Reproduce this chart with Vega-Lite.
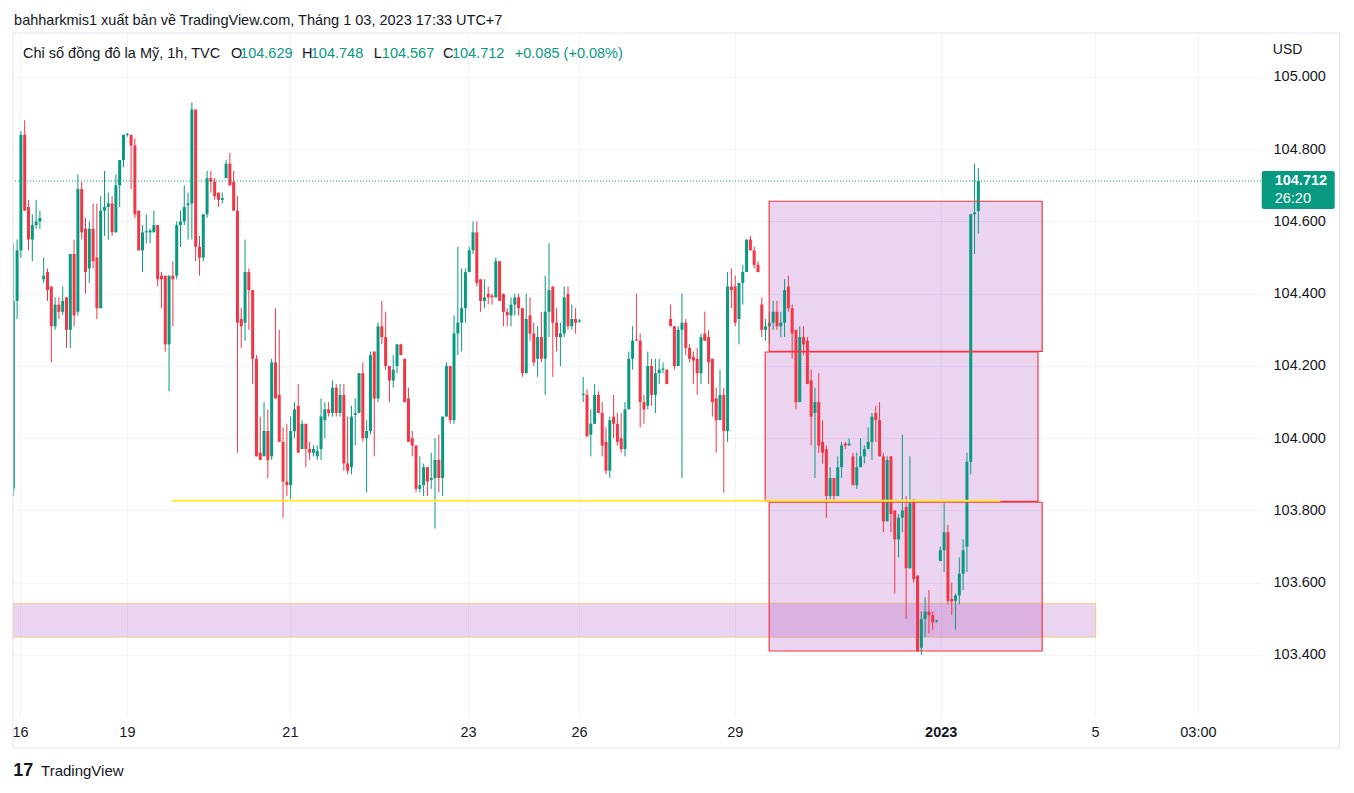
{
  "$schema": "https://vega.github.io/schema/vega-lite/v6.json",
  "width": 1248,
  "height": 683,
  "autosize": "none",
  "padding": {"left": 13, "top": 33, "right": 93, "bottom": 77},
  "background": "#ffffff",
  "config": {
    "view": {"stroke": null},
    "font": "Liberation Sans",
    "text": {"font": "Liberation Sans"}
  },
  "data": {"values": [{"note": "annotation"}]},
  "datasets": {
    "candles": [
      {"i":0,"o":103.86,"h":104.54,"l":103.84,"c":104.38},
      {"i":1,"o":104.38,"h":104.55,"l":104.33,"c":104.52},
      {"i":2,"o":104.52,"h":104.85,"l":104.50,"c":104.84},
      {"i":3,"o":104.84,"h":104.88,"l":104.63,"c":104.63},
      {"i":4,"o":104.64,"h":104.66,"l":104.52,"c":104.55},
      {"i":5,"o":104.55,"h":104.62,"l":104.49,"c":104.59},
      {"i":6,"o":104.59,"h":104.66,"l":104.58,"c":104.60},
      {"i":7,"o":104.60,"h":104.63,"l":104.58,"c":104.61},
      {"i":8,"o":104.44,"h":104.50,"l":104.43,"c":104.45},
      {"i":9,"o":104.46,"h":104.47,"l":104.38,"c":104.41},
      {"i":10,"o":104.42,"h":104.42,"l":104.21,"c":104.31},
      {"i":11,"o":104.31,"h":104.39,"l":104.30,"c":104.37},
      {"i":12,"o":104.37,"h":104.39,"l":104.33,"c":104.35},
      {"i":13,"o":104.35,"h":104.42,"l":104.34,"c":104.38},
      {"i":14,"o":104.39,"h":104.39,"l":104.25,"c":104.30},
      {"i":15,"o":104.30,"h":104.51,"l":104.25,"c":104.51},
      {"i":16,"o":104.51,"h":104.55,"l":104.31,"c":104.34},
      {"i":17,"o":104.35,"h":104.73,"l":104.34,"c":104.69},
      {"i":18,"o":104.69,"h":104.71,"l":104.55,"c":104.57},
      {"i":19,"o":104.58,"h":104.61,"l":104.40,"c":104.46},
      {"i":20,"o":104.47,"h":104.60,"l":104.43,"c":104.58},
      {"i":21,"o":104.58,"h":104.65,"l":104.47,"c":104.49},
      {"i":22,"o":104.50,"h":104.65,"l":104.33,"c":104.36},
      {"i":23,"o":104.36,"h":104.67,"l":104.36,"c":104.63},
      {"i":24,"o":104.63,"h":104.74,"l":104.56,"c":104.64},
      {"i":25,"o":104.64,"h":104.68,"l":104.55,"c":104.65},
      {"i":26,"o":104.65,"h":104.67,"l":104.56,"c":104.57},
      {"i":27,"o":104.57,"h":104.73,"l":104.57,"c":104.70},
      {"i":28,"o":104.70,"h":104.77,"l":104.64,"c":104.77},
      {"i":29,"o":104.77,"h":104.84,"l":104.75,"c":104.84},
      {"i":30,"o":104.84,"h":104.845,"l":104.835,"c":104.843},
      {"i":31,"o":104.84,"h":104.84,"l":104.69,"c":104.81},
      {"i":32,"o":104.81,"h":104.83,"l":104.61,"c":104.62},
      {"i":33,"o":104.63,"h":104.63,"l":104.52,"c":104.52},
      {"i":34,"o":104.52,"h":104.59,"l":104.46,"c":104.57},
      {"i":35,"o":104.57,"h":104.62,"l":104.54,"c":104.573},
      {"i":36,"o":104.57,"h":104.58,"l":104.54,"c":104.575},
      {"i":37,"o":104.57,"h":104.63,"l":104.57,"c":104.59},
      {"i":38,"o":104.59,"h":104.59,"l":104.42,"c":104.44},
      {"i":39,"o":104.45,"h":104.46,"l":104.36,"c":104.44},
      {"i":40,"o":104.45,"h":104.45,"l":104.24,"c":104.26},
      {"i":41,"o":104.26,"h":104.45,"l":104.13,"c":104.45},
      {"i":42,"o":104.45,"h":104.49,"l":104.31,"c":104.44},
      {"i":43,"o":104.45,"h":104.60,"l":104.44,"c":104.59},
      {"i":44,"o":104.59,"h":104.63,"l":104.53,"c":104.60},
      {"i":45,"o":104.60,"h":104.70,"l":104.59,"c":104.64},
      {"i":46,"o":104.645,"h":104.68,"l":104.55,"c":104.65},
      {"i":47,"o":104.65,"h":104.93,"l":104.55,"c":104.91},
      {"i":48,"o":104.91,"h":104.91,"l":104.49,"c":104.53},
      {"i":49,"o":104.53,"h":104.56,"l":104.45,"c":104.50},
      {"i":50,"o":104.50,"h":104.62,"l":104.49,"c":104.62},
      {"i":51,"o":104.62,"h":104.74,"l":104.61,"c":104.72},
      {"i":52,"o":104.72,"h":104.74,"l":104.68,"c":104.71},
      {"i":53,"o":104.71,"h":104.72,"l":104.66,"c":104.67},
      {"i":54,"o":104.68,"h":104.68,"l":104.64,"c":104.66},
      {"i":55,"o":104.66,"h":104.68,"l":104.65,"c":104.665},
      {"i":56,"o":104.72,"h":104.77,"l":104.72,"c":104.76},
      {"i":57,"o":104.76,"h":104.79,"l":104.70,"c":104.70},
      {"i":58,"o":104.71,"h":104.74,"l":104.63,"c":104.63},
      {"i":59,"o":104.63,"h":104.67,"l":103.96,"c":104.32},
      {"i":60,"o":104.33,"h":104.36,"l":104.25,"c":104.31},
      {"i":61,"o":104.32,"h":104.55,"l":104.27,"c":104.46},
      {"i":62,"o":104.46,"h":104.47,"l":104.30,"c":104.41},
      {"i":63,"o":104.41,"h":104.41,"l":104.15,"c":104.22},
      {"i":64,"o":104.22,"h":104.23,"l":103.95,"c":103.95},
      {"i":65,"o":103.96,"h":104.06,"l":103.94,"c":103.94},
      {"i":66,"o":103.95,"h":104.10,"l":103.95,"c":104.02},
      {"i":67,"o":104.02,"h":104.08,"l":103.89,"c":103.94},
      {"i":68,"o":103.95,"h":104.22,"l":103.94,"c":104.21},
      {"i":69,"o":104.21,"h":104.36,"l":104.11,"c":104.11},
      {"i":70,"o":104.12,"h":104.30,"l":103.99,"c":103.99},
      {"i":71,"o":103.99,"h":104.03,"l":103.78,"c":103.88},
      {"i":72,"o":103.88,"h":104.04,"l":103.84,"c":103.87},
      {"i":73,"o":103.87,"h":104.06,"l":103.83,"c":104.02},
      {"i":74,"o":104.02,"h":104.10,"l":104.00,"c":104.08},
      {"i":75,"o":104.09,"h":104.15,"l":103.96,"c":103.96},
      {"i":76,"o":103.97,"h":104.05,"l":103.97,"c":104.04},
      {"i":77,"o":104.04,"h":104.04,"l":103.92,"c":103.97},
      {"i":78,"o":103.97,"h":103.99,"l":103.94,"c":103.96},
      {"i":79,"o":103.96,"h":103.98,"l":103.95,"c":103.97},
      {"i":80,"o":103.95,"h":103.98,"l":103.94,"c":103.965},
      {"i":81,"o":103.97,"h":104.11,"l":103.94,"c":104.06},
      {"i":82,"o":104.05,"h":104.10,"l":104.00,"c":104.08},
      {"i":83,"o":104.08,"h":104.10,"l":104.06,"c":104.07},
      {"i":84,"o":104.07,"h":104.16,"l":104.06,"c":104.14},
      {"i":85,"o":104.14,"h":104.15,"l":104.06,"c":104.07},
      {"i":86,"o":104.07,"h":104.15,"l":104.06,"c":104.12},
      {"i":87,"o":104.12,"h":104.15,"l":103.91,"c":103.93},
      {"i":88,"o":103.93,"h":104.06,"l":103.90,"c":103.91},
      {"i":89,"o":103.92,"h":104.09,"l":103.90,"c":104.06},
      {"i":90,"o":104.065,"h":104.11,"l":103.98,"c":104.07},
      {"i":91,"o":104.07,"h":104.18,"l":104.07,"c":104.18},
      {"i":92,"o":104.18,"h":104.21,"l":103.99,"c":104.00},
      {"i":93,"o":104.00,"h":104.05,"l":103.85,"c":104.02},
      {"i":94,"o":104.02,"h":104.24,"l":104.01,"c":104.23},
      {"i":95,"o":104.24,"h":104.24,"l":103.95,"c":104.11},
      {"i":96,"o":104.11,"h":104.32,"l":104.10,"c":104.31},
      {"i":97,"o":104.31,"h":104.38,"l":104.26,"c":104.28},
      {"i":98,"o":104.28,"h":104.35,"l":104.19,"c":104.20},
      {"i":99,"o":104.20,"h":104.20,"l":104.10,"c":104.16},
      {"i":100,"o":104.16,"h":104.23,"l":104.14,"c":104.19},
      {"i":101,"o":104.20,"h":104.26,"l":104.18,"c":104.26},
      {"i":102,"o":104.26,"h":104.26,"l":104.23,"c":104.23},
      {"i":103,"o":104.22,"h":104.22,"l":104.10,"c":104.10},
      {"i":104,"o":104.11,"h":104.14,"l":103.99,"c":103.99},
      {"i":105,"o":104.00,"h":104.02,"l":103.95,"c":103.98},
      {"i":106,"o":103.98,"h":103.98,"l":103.85,"c":103.86},
      {"i":107,"o":103.86,"h":103.95,"l":103.85,"c":103.87},
      {"i":108,"o":103.87,"h":103.93,"l":103.84,"c":103.92},
      {"i":109,"o":103.92,"h":103.92,"l":103.84,"c":103.88},
      {"i":110,"o":103.885,"h":103.96,"l":103.86,"c":103.89},
      {"i":111,"o":103.89,"h":104.00,"l":103.75,"c":103.94},
      {"i":112,"o":103.94,"h":104.01,"l":103.85,"c":103.89},
      {"i":113,"o":103.89,"h":104.06,"l":103.84,"c":104.06},
      {"i":114,"o":104.06,"h":104.21,"l":104.06,"c":104.20},
      {"i":115,"o":104.20,"h":104.20,"l":104.04,"c":104.05},
      {"i":116,"o":104.05,"h":104.34,"l":104.04,"c":104.29},
      {"i":117,"o":104.29,"h":104.53,"l":104.23,"c":104.32},
      {"i":118,"o":104.32,"h":104.47,"l":104.24,"c":104.36},
      {"i":119,"o":104.36,"h":104.47,"l":104.32,"c":104.46},
      {"i":120,"o":104.46,"h":104.53,"l":104.46,"c":104.52},
      {"i":121,"o":104.52,"h":104.60,"l":104.51,"c":104.57},
      {"i":122,"o":104.57,"h":104.60,"l":104.42,"c":104.43},
      {"i":123,"o":104.44,"h":104.44,"l":104.35,"c":104.38},
      {"i":124,"o":104.38,"h":104.44,"l":104.36,"c":104.39},
      {"i":125,"o":104.40,"h":104.42,"l":104.37,"c":104.39},
      {"i":126,"o":104.395,"h":104.40,"l":104.37,"c":104.39},
      {"i":127,"o":104.39,"h":104.50,"l":104.39,"c":104.49},
      {"i":128,"o":104.49,"h":104.49,"l":104.38,"c":104.38},
      {"i":129,"o":104.40,"h":104.40,"l":104.31,"c":104.35},
      {"i":130,"o":104.35,"h":104.36,"l":104.31,"c":104.34},
      {"i":131,"o":104.34,"h":104.39,"l":104.31,"c":104.37},
      {"i":132,"o":104.37,"h":104.40,"l":104.34,"c":104.39},
      {"i":133,"o":104.39,"h":104.40,"l":104.34,"c":104.36},
      {"i":134,"o":104.36,"h":104.36,"l":104.17,"c":104.18},
      {"i":135,"o":104.18,"h":104.40,"l":104.18,"c":104.33},
      {"i":136,"o":104.34,"h":104.39,"l":104.27,"c":104.29},
      {"i":137,"o":104.29,"h":104.32,"l":104.20,"c":104.21},
      {"i":138,"o":104.22,"h":104.31,"l":104.17,"c":104.28},
      {"i":139,"o":104.28,"h":104.35,"l":104.21,"c":104.22},
      {"i":140,"o":104.22,"h":104.45,"l":104.12,"c":104.35},
      {"i":141,"o":104.35,"h":104.54,"l":104.28,"c":104.41},
      {"i":142,"o":104.42,"h":104.42,"l":104.17,"c":104.32},
      {"i":143,"o":104.32,"h":104.36,"l":104.24,"c":104.28},
      {"i":144,"o":104.28,"h":104.32,"l":104.20,"c":104.29},
      {"i":145,"o":104.29,"h":104.42,"l":104.28,"c":104.39},
      {"i":146,"o":104.40,"h":104.42,"l":104.30,"c":104.31},
      {"i":147,"o":104.31,"h":104.37,"l":104.30,"c":104.33},
      {"i":148,"o":104.33,"h":104.36,"l":104.29,"c":104.32},
      {"i":149,"o":104.323,"h":104.33,"l":104.32,"c":104.326},
      {"i":150,"o":104.12,"h":104.17,"l":104.10,"c":104.123},
      {"i":151,"o":104.12,"h":104.135,"l":104.005,"c":104.005},
      {"i":152,"o":104.01,"h":104.08,"l":103.95,"c":104.04},
      {"i":153,"o":104.04,"h":104.15,"l":104.04,"c":104.12},
      {"i":154,"o":104.12,"h":104.13,"l":104.07,"c":104.07},
      {"i":155,"o":104.07,"h":104.10,"l":103.95,"c":103.98},
      {"i":156,"o":103.99,"h":104.03,"l":103.90,"c":103.91},
      {"i":157,"o":103.91,"h":104.06,"l":103.89,"c":104.05},
      {"i":158,"o":104.06,"h":104.12,"l":104.00,"c":104.04},
      {"i":159,"o":104.04,"h":104.07,"l":103.98,"c":103.99},
      {"i":160,"o":104.00,"h":104.07,"l":103.96,"c":103.97},
      {"i":161,"o":103.97,"h":104.10,"l":103.95,"c":104.08},
      {"i":162,"o":104.08,"h":104.24,"l":104.08,"c":104.22},
      {"i":163,"o":104.22,"h":104.31,"l":104.19,"c":104.27},
      {"i":164,"o":104.273,"h":104.40,"l":104.27,"c":104.27},
      {"i":165,"o":104.27,"h":104.29,"l":104.03,"c":104.10},
      {"i":166,"o":104.10,"h":104.12,"l":104.04,"c":104.08},
      {"i":167,"o":104.09,"h":104.24,"l":104.08,"c":104.20},
      {"i":168,"o":104.20,"h":104.22,"l":104.09,"c":104.12},
      {"i":169,"o":104.12,"h":104.22,"l":104.07,"c":104.18},
      {"i":170,"o":104.18,"h":104.22,"l":104.15,"c":104.19},
      {"i":171,"o":104.19,"h":104.21,"l":104.18,"c":104.193},
      {"i":172,"o":104.19,"h":104.19,"l":104.15,"c":104.15},
      {"i":173,"o":104.33,"h":104.37,"l":104.31,"c":104.31},
      {"i":174,"o":104.31,"h":104.31,"l":104.19,"c":104.20},
      {"i":175,"o":104.20,"h":104.31,"l":104.20,"c":104.30},
      {"i":176,"o":104.30,"h":104.40,"l":103.89,"c":104.32},
      {"i":177,"o":104.32,"h":104.33,"l":104.23,"c":104.25},
      {"i":178,"o":104.25,"h":104.26,"l":104.21,"c":104.22},
      {"i":179,"o":104.225,"h":104.24,"l":104.15,"c":104.215},
      {"i":180,"o":104.22,"h":104.25,"l":104.12,"c":104.18},
      {"i":181,"o":104.18,"h":104.29,"l":104.15,"c":104.28},
      {"i":182,"o":104.29,"h":104.35,"l":104.27,"c":104.27},
      {"i":183,"o":104.28,"h":104.30,"l":104.15,"c":104.21},
      {"i":184,"o":104.22,"h":104.22,"l":104.06,"c":104.10},
      {"i":185,"o":104.11,"h":104.14,"l":103.96,"c":104.05},
      {"i":186,"o":104.05,"h":104.19,"l":104.05,"c":104.12},
      {"i":187,"o":104.12,"h":104.14,"l":103.85,"c":104.02},
      {"i":188,"o":104.02,"h":104.46,"l":103.99,"c":104.42},
      {"i":189,"o":104.42,"h":104.47,"l":104.36,"c":104.41},
      {"i":190,"o":104.42,"h":104.45,"l":104.31,"c":104.32},
      {"i":191,"o":104.33,"h":104.43,"l":104.26,"c":104.43},
      {"i":192,"o":104.43,"h":104.48,"l":104.37,"c":104.46},
      {"i":193,"o":104.46,"h":104.55,"l":104.46,"c":104.55},
      {"i":194,"o":104.55,"h":104.56,"l":104.52,"c":104.52},
      {"i":195,"o":104.52,"h":104.53,"l":104.47,"c":104.48},
      {"i":196,"o":104.48,"h":104.49,"l":104.46,"c":104.46},
      {"i":197,"o":104.37,"h":104.39,"l":104.28,"c":104.30},
      {"i":198,"o":104.30,"h":104.33,"l":104.27,"c":104.31},
      {"i":199,"o":104.31,"h":104.35,"l":104.26,"c":104.32},
      {"i":200,"o":104.32,"h":104.38,"l":104.30,"c":104.35},
      {"i":201,"o":104.35,"h":104.38,"l":104.30,"c":104.31},
      {"i":202,"o":104.31,"h":104.35,"l":104.28,"c":104.32},
      {"i":203,"o":104.32,"h":104.44,"l":104.28,"c":104.41},
      {"i":204,"o":104.42,"h":104.45,"l":104.35,"c":104.36},
      {"i":205,"o":104.36,"h":104.37,"l":104.22,"c":104.29},
      {"i":206,"o":104.30,"h":104.30,"l":104.08,"c":104.10},
      {"i":207,"o":104.10,"h":104.31,"l":104.10,"c":104.28},
      {"i":208,"o":104.28,"h":104.31,"l":104.23,"c":104.26},
      {"i":209,"o":104.27,"h":104.28,"l":104.15,"c":104.15},
      {"i":210,"o":104.16,"h":104.19,"l":103.98,"c":104.06},
      {"i":211,"o":104.07,"h":104.14,"l":103.89,"c":104.10},
      {"i":212,"o":104.10,"h":104.18,"l":103.96,"c":103.98},
      {"i":213,"o":103.99,"h":104.05,"l":103.93,"c":103.96},
      {"i":214,"o":103.97,"h":103.98,"l":103.78,"c":103.84},
      {"i":215,"o":103.84,"h":103.92,"l":103.83,"c":103.89},
      {"i":216,"o":103.89,"h":103.89,"l":103.83,"c":103.84},
      {"i":217,"o":103.84,"h":103.95,"l":103.84,"c":103.92},
      {"i":218,"o":103.92,"h":103.99,"l":103.89,"c":103.98},
      {"i":219,"o":103.985,"h":103.99,"l":103.97,"c":103.98},
      {"i":220,"o":103.98,"h":104.00,"l":103.98,"c":103.985},
      {"i":221,"o":103.95,"h":103.96,"l":103.87,"c":103.87},
      {"i":222,"o":103.87,"h":103.96,"l":103.86,"c":103.92},
      {"i":223,"o":103.92,"h":104.00,"l":103.92,"c":103.95},
      {"i":224,"o":103.95,"h":103.98,"l":103.93,"c":103.97},
      {"i":225,"o":103.97,"h":104.03,"l":103.97,"c":103.99},
      {"i":226,"o":103.99,"h":104.07,"l":103.94,"c":104.06},
      {"i":227,"o":104.07,"h":104.09,"l":103.99,"c":104.05},
      {"i":228,"o":104.05,"h":104.10,"l":103.95,"c":103.95},
      {"i":229,"o":103.95,"h":103.96,"l":103.74,"c":103.77},
      {"i":230,"o":103.77,"h":103.95,"l":103.77,"c":103.94},
      {"i":231,"o":103.95,"h":103.95,"l":103.74,"c":103.79},
      {"i":232,"o":103.80,"h":103.80,"l":103.57,"c":103.72},
      {"i":233,"o":103.72,"h":103.79,"l":103.67,"c":103.78},
      {"i":234,"o":103.78,"h":104.01,"l":103.74,"c":103.80},
      {"i":235,"o":103.81,"h":103.84,"l":103.50,"c":103.64},
      {"i":236,"o":103.64,"h":103.95,"l":103.64,"c":103.82},
      {"i":237,"o":103.83,"h":103.83,"l":103.60,"c":103.61},
      {"i":238,"o":103.62,"h":103.62,"l":103.41,"c":103.41},
      {"i":239,"o":103.42,"h":103.52,"l":103.40,"c":103.50},
      {"i":240,"o":103.50,"h":103.56,"l":103.45,"c":103.52},
      {"i":241,"o":103.52,"h":103.58,"l":103.46,"c":103.51},
      {"i":242,"o":103.51,"h":103.52,"l":103.47,"c":103.49},
      {"i":243,"o":103.493,"h":103.497,"l":103.49,"c":103.496},
      {"i":244,"o":103.66,"h":103.70,"l":103.66,"c":103.69},
      {"i":245,"o":103.69,"h":103.82,"l":103.63,"c":103.74},
      {"i":246,"o":103.74,"h":103.76,"l":103.54,"c":103.55},
      {"i":247,"o":103.555,"h":103.60,"l":103.51,"c":103.548},
      {"i":248,"o":103.55,"h":103.57,"l":103.47,"c":103.565},
      {"i":249,"o":103.565,"h":103.67,"l":103.54,"c":103.625},
      {"i":250,"o":103.625,"h":103.72,"l":103.58,"c":103.69},
      {"i":251,"o":103.70,"h":103.96,"l":103.63,"c":103.935},
      {"i":252,"o":103.935,"h":104.62,"l":103.90,"c":104.62},
      {"i":253,"o":104.62,"h":104.76,"l":104.51,"c":104.625},
      {"i":254,"o":104.629,"h":104.748,"l":104.567,"c":104.712}
    ],
    "boxes": [
      {"a":198.95,"b":270.8,"t":104.656,"u":104.2407},
      {"a":197.9,"b":269.7,"t":104.2388,"u":103.8255},
      {"a":198.95,"b":270.8,"t":103.8228,"u":103.4111}
    ]
  },
  "layer": [
    {
      "mark": {"type": "rect", "fill": "#9C27B0", "fillOpacity": 0.2, "stroke": "#F9C74F", "strokeOpacity": 0.6, "strokeWidth": 1},
      "encoding": {
        "x": {"datum": -0.08, "type": "quantitative", "title": null},
        "x2": {"datum": 284.9},
        "y": {"datum": 103.5431, "type": "quantitative", "title": null},
        "y2": {"datum": 103.449}
      }
    },
    {
      "data": {"name": "boxes"},
      "mark": {"type": "rect", "fill": "#9C27B0", "fillOpacity": 0.2, "strokeWidth": 0},
      "encoding": {
        "x": {"field": "a", "type": "quantitative", "title": null},
        "x2": {"field": "b"},
        "y": {"field": "t", "type": "quantitative", "title": null},
        "y2": {"field": "u"}
      }
    },
    {
      "data": {"name": "candles"},
      "mark": {"type": "rule", "strokeWidth": 1, "clip": true},
      "encoding": {
        "x": {
          "field": "i", "type": "quantitative", "title": null,
          "scale": {"domain": [-0.08, 328.4], "nice": false, "zero": false, "padding": 0},
          "axis": {
            "title": null,
            "values": [1.76, 29.9, 72.8, 119.7, 148.9, 189.9, 244.1, 284.7, 311.8],
            "labelExpr": "datum.value < 10 ? '16' : datum.value < 50 ? '19' : datum.value < 100 ? '21' : datum.value < 130 ? '23' : datum.value < 170 ? '26' : datum.value < 220 ? '29' : datum.value < 260 ? '2023' : datum.value < 300 ? '5' : '03:00'",
            "labelFontWeight": {"condition": {"test": "datum.value > 240 && datum.value < 250", "value": "bold"}, "value": "normal"},
            "grid": true, "gridColor": "#F0F3FA", "gridWidth": 1,
            "ticks": false, "domain": false,
            "labelColor": "#131722", "labelFontSize": 14.5, "labelFont": "Liberation Sans",
            "labelPadding": 9, "labelFlush": false, "labelOverlap": false, "labelBound": false
          }
        },
        "y": {
          "field": "l", "type": "quantitative", "title": null,
          "scale": {"domain": [103.2311, 105.1218], "nice": false, "zero": false, "padding": 0},
          "axis": {
            "title": null, "orient": "right",
            "values": [103.4, 103.6, 103.8, 104.0, 104.2, 104.4, 104.6, 104.8, 105.0],
            "format": ".3f",
            "grid": true, "gridColor": "#F0F3FA", "gridWidth": 1,
            "ticks": false, "domain": false,
            "labelColor": "#131722", "labelFontSize": 14.5, "labelFont": "Liberation Sans",
            "labelPadding": 12, "labelAlign": "left", "labelOverlap": false, "labelBound": false
          }
        },
        "y2": {"field": "h"},
        "color": {"condition": {"test": "datum.c >= datum.o", "value": "#089981"}, "value": "#F23645"}
      }
    },
    {
      "data": {"name": "candles"},
      "mark": {"type": "bar", "size": 3, "clip": true},
      "encoding": {
        "x": {"field": "i", "type": "quantitative", "title": null},
        "y": {"field": "o", "type": "quantitative", "title": null},
        "y2": {"field": "c"},
        "color": {"condition": {"test": "datum.c >= datum.o", "value": "#089981"}, "value": "#F23645"}
      }
    },
    {
      "mark": {"type": "rule", "color": "#089981", "strokeDash": [1, 2], "strokeWidth": 1},
      "encoding": {"y": {"datum": 104.712, "type": "quantitative", "title": null}}
    },
    {
      "data": {"name": "boxes"},
      "mark": {"type": "rect", "fill": null, "filled": false, "stroke": "#F23645", "strokeWidth": 1.2},
      "encoding": {
        "x": {"field": "a", "type": "quantitative", "title": null},
        "x2": {"field": "b"},
        "y": {"field": "t", "type": "quantitative", "title": null},
        "y2": {"field": "u"}
      }
    },
    {
      "mark": {"type": "rule", "color": "#FFEB3B", "strokeWidth": 2},
      "encoding": {
        "x": {"datum": 41.8, "type": "quantitative", "title": null},
        "x2": {"datum": 259.8},
        "y": {"datum": 103.8271, "type": "quantitative", "title": null}
      }
    },
    {
      "mark": {"type": "rect", "fill": null, "filled": false, "stroke": "#E0E3EB", "strokeWidth": 1},
      "encoding": {
        "x": {"datum": -0.08, "type": "quantitative", "title": null},
        "x2": {"datum": 349.1},
        "y": {"datum": 105.1218, "type": "quantitative", "title": null},
        "y2": {"datum": 103.1426}
      }
    },
    {
      "mark": {"type": "text", "align": "left", "baseline": "middle", "fontSize": 14.5, "color": "#131722"},
      "encoding": {
        "x": {"datum": 0.2, "type": "quantitative", "title": null},
        "y": {"datum": 105.155, "type": "quantitative", "title": null},
        "text": {"value": "bahharkmis1 xuất bản về TradingView.com, Tháng 1 03, 2023 17:33 UTC+7"}
      }
    },
    {
      "mark": {"type": "text", "align": "left", "baseline": "middle", "fontSize": 14.5, "color": "#131722"},
      "encoding": {
        "x": {"datum": 2.55, "type": "quantitative", "title": null},
        "y": {"datum": 105.0636, "type": "quantitative", "title": null},
        "text": {"value": "Chỉ số đồng đô la Mỹ, 1h, TVC"}
      }
    },
    {
      "mark": {"type": "text", "align": "left", "baseline": "middle", "fontSize": 14.5, "color": "#131722"},
      "encoding": {
        "x": {"datum": 57.3, "type": "quantitative", "title": null},
        "y": {"datum": 105.0636, "type": "quantitative", "title": null},
        "text": {"value": "O"}
      }
    },
    {
      "mark": {"type": "text", "align": "left", "baseline": "middle", "fontSize": 14.5, "color": "#089981"},
      "encoding": {
        "x": {"datum": 59.7, "type": "quantitative", "title": null},
        "y": {"datum": 105.0636, "type": "quantitative", "title": null},
        "text": {"value": "104.629"}
      }
    },
    {
      "mark": {"type": "text", "align": "left", "baseline": "middle", "fontSize": 14.5, "color": "#131722"},
      "encoding": {
        "x": {"datum": 76.0, "type": "quantitative", "title": null},
        "y": {"datum": 105.0636, "type": "quantitative", "title": null},
        "text": {"value": "H"}
      }
    },
    {
      "mark": {"type": "text", "align": "left", "baseline": "middle", "fontSize": 14.5, "color": "#089981"},
      "encoding": {
        "x": {"datum": 78.3, "type": "quantitative", "title": null},
        "y": {"datum": 105.0636, "type": "quantitative", "title": null},
        "text": {"value": "104.748"}
      }
    },
    {
      "mark": {"type": "text", "align": "left", "baseline": "middle", "fontSize": 14.5, "color": "#131722"},
      "encoding": {
        "x": {"datum": 94.9, "type": "quantitative", "title": null},
        "y": {"datum": 105.0636, "type": "quantitative", "title": null},
        "text": {"value": "L"}
      }
    },
    {
      "mark": {"type": "text", "align": "left", "baseline": "middle", "fontSize": 14.5, "color": "#089981"},
      "encoding": {
        "x": {"datum": 97.0, "type": "quantitative", "title": null},
        "y": {"datum": 105.0636, "type": "quantitative", "title": null},
        "text": {"value": "104.567"}
      }
    },
    {
      "mark": {"type": "text", "align": "left", "baseline": "middle", "fontSize": 14.5, "color": "#131722"},
      "encoding": {
        "x": {"datum": 113.1, "type": "quantitative", "title": null},
        "y": {"datum": 105.0636, "type": "quantitative", "title": null},
        "text": {"value": "C"}
      }
    },
    {
      "mark": {"type": "text", "align": "left", "baseline": "middle", "fontSize": 14.5, "color": "#089981"},
      "encoding": {
        "x": {"datum": 115.45, "type": "quantitative", "title": null},
        "y": {"datum": 105.0636, "type": "quantitative", "title": null},
        "text": {"value": "104.712"}
      }
    },
    {
      "mark": {"type": "text", "align": "left", "baseline": "middle", "fontSize": 14.5, "color": "#089981"},
      "encoding": {
        "x": {"datum": 132.0, "type": "quantitative", "title": null},
        "y": {"datum": 105.0636, "type": "quantitative", "title": null},
        "text": {"value": "+0.085 (+0.08%)"}
      }
    },
    {
      "mark": {"type": "text", "align": "left", "baseline": "middle", "fontSize": 14, "color": "#131722"},
      "encoding": {
        "x": {"datum": 331.5, "type": "quantitative", "title": null},
        "y": {"datum": 105.0747, "type": "quantitative", "title": null},
        "text": {"value": "USD"}
      }
    },
    {
      "mark": {"type": "rect", "fill": "#089981", "cornerRadius": 2},
      "encoding": {
        "x": {"datum": 328.6, "type": "quantitative", "title": null},
        "x2": {"datum": 347.8},
        "y": {"datum": 104.7398, "type": "quantitative", "title": null},
        "y2": {"datum": 104.6346}
      }
    },
    {
      "mark": {"type": "text", "align": "left", "baseline": "middle", "fontSize": 14.5, "fontWeight": "bold", "color": "#ffffff"},
      "encoding": {
        "x": {"datum": 332.0, "type": "quantitative", "title": null},
        "y": {"datum": 104.712, "type": "quantitative", "title": null},
        "text": {"value": "104.712"}
      }
    },
    {
      "mark": {"type": "text", "align": "left", "baseline": "middle", "fontSize": 14.5, "color": "#ffffff"},
      "encoding": {
        "x": {"datum": 332.0, "type": "quantitative", "title": null},
        "y": {"datum": 104.6623, "type": "quantitative", "title": null},
        "text": {"value": "26:20"}
      }
    },
    {
      "mark": {"type": "text", "align": "left", "baseline": "middle", "fontSize": 18, "fontWeight": 900, "color": "#131722"},
      "encoding": {
        "x": {"datum": 0.0, "type": "quantitative", "title": null},
        "y": {"datum": 103.0789, "type": "quantitative", "title": null},
        "text": {"value": "17"}
      }
    },
    {
      "mark": {"type": "text", "align": "left", "baseline": "middle", "fontSize": 15, "color": "#131722"},
      "encoding": {
        "x": {"datum": 7.3, "type": "quantitative", "title": null},
        "y": {"datum": 103.0789, "type": "quantitative", "title": null},
        "text": {"value": "TradingView"}
      }
    }
  ]
}
